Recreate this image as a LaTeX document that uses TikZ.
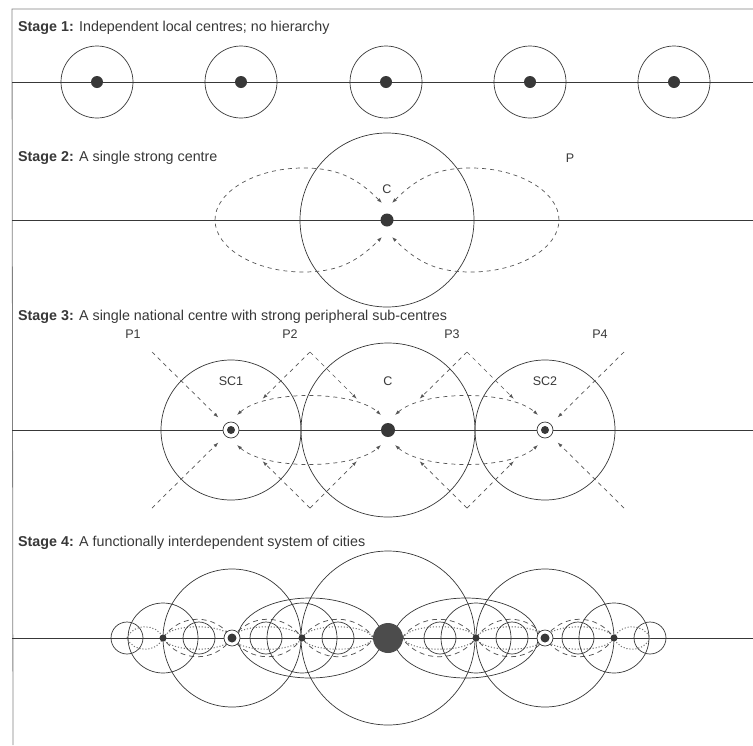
\documentclass[tikz,border=0pt]{standalone}
\usepackage{fontspec}
\setmainfont{Liberation Sans}
\usetikzlibrary{arrows.meta,calc}
\definecolor{ink}{gray}{0.22}
\definecolor{rule}{gray}{0.5}
\begin{document}
\begin{tikzpicture}[x=1pt,y=1pt]
\tikzstyle{every node}+=[inner sep=0pt, font=\fontsize{12.5}{14}\selectfont, text=ink]
\tikzstyle{stagetitle}=[anchor=west, font=\fontsize{14.3}{16}\selectfont]
\tikzstyle{axisline}=[draw=ink, line width=0.6pt]
\tikzstyle{ring}=[draw=ink, line width=0.7pt]
\tikzstyle{flow}=[draw=ink!85, line width=0.7pt, dash pattern=on 4pt off 4pt, -{Latex[length=5pt,width=3.5pt]}]
\tikzstyle{flows}=[flow, {Latex[length=5pt,width=3.5pt]}-{Latex[length=5pt,width=3.5pt]}]
\tikzstyle{link}=[draw=ink!85, line width=0.75pt, dash pattern=on 5pt off 4pt]
\tikzstyle{tie}=[draw=ink!70, line width=1pt, dash pattern=on 1.1pt off 1.9pt]
\useasboundingbox (0,0) rectangle (753,-745);
\fill [white] (0,0) rectangle (753,-745);
\draw [rule, line width=0.8pt] (753,-9) -- (12,-9) -- (13,-745);
% stage 1
\node [stagetitle] (t1) at (18,-28) {\textbf{Stage 1:} Independent local centres; no hierarchy};
\draw [axisline] (12,-82) -- (753,-82);
\coordinate (a1) at (97,-82);
\coordinate (a2) at (241,-82);
\coordinate (a3) at (386,-82);
\coordinate (a4) at (530,-82);
\coordinate (a5) at (674,-82);
\draw [ring] (a1) circle (36);
\draw [ring] (a2) circle (36);
\draw [ring] (a3) circle (36);
\draw [ring] (a4) circle (36);
\draw [ring] (a5) circle (36);
\fill [ink] (a1) circle (6);
\fill [ink] (a2) circle (6);
\fill [ink] (a3) circle (6);
\fill [ink] (a4) circle (6);
\fill [ink] (a5) circle (6);
% stage 2
\node [stagetitle] (t2) at (18,-158) {\textbf{Stage 2:} A single strong centre};
\draw [axisline] (12,-220) -- (753,-220);
\coordinate (c2) at (387,-220);
\draw [ring] (c2) circle (87);
\draw [flows] (382,-203) .. controls (355,-176) and (335,-168) .. (303,-168) .. controls (255,-168) and (215,-192) .. (215,-220) .. controls (215,-248) and (255,-272) .. (303,-272) .. controls (335,-272) and (355,-264) .. (382,-237);
\draw [flows] (392,-203) .. controls (419,-176) and (439,-168) .. (471,-168) .. controls (519,-168) and (559,-192) .. (559,-220) .. controls (559,-248) and (519,-272) .. (471,-272) .. controls (439,-272) and (419,-264) .. (392,-237);
\fill [ink] (c2) circle (6.5);
\node (c2lab) at (387,-189) {C};
\node (plab) at (570,-158) {P};
% stage 3
\node [stagetitle] (t3) at (18,-317) {\textbf{Stage 3:} A single national centre with strong peripheral sub-centres};
\draw [axisline] (12,-430) -- (753,-430);
\coordinate (sc1) at (231,-430);
\coordinate (c3) at (388,-430);
\coordinate (sc2) at (545,-430);
\coordinate (pa) at (152,-352);
\coordinate (pb) at (310,-352);
\coordinate (pc) at (467,-352);
\coordinate (pd) at (624,-352);
\coordinate (qa) at (152,-508);
\coordinate (qb) at (310,-508);
\coordinate (qc) at (467,-508);
\coordinate (qd) at (624,-508);
\draw [ring] (sc1) circle (70);
\draw [ring] (c3) circle (87);
\draw [ring] (sc2) circle (70);
\draw [flow] (pa) -- ($(pa)!0.84!(sc1)$);
\draw [flow] (pb) -- ($(pb)!0.6!(sc1)$);
\draw [flow] (pb) -- ($(pb)!0.6!(c3)$);
\draw [flow] (pc) -- ($(pc)!0.6!(c3)$);
\draw [flow] (pc) -- ($(pc)!0.6!(sc2)$);
\draw [flow] (pd) -- ($(pd)!0.84!(sc2)$);
\draw [flow] (qa) -- ($(qa)!0.84!(sc1)$);
\draw [flow] (qb) -- ($(qb)!0.6!(sc1)$);
\draw [flow] (qb) -- ($(qb)!0.6!(c3)$);
\draw [flow] (qc) -- ($(qc)!0.6!(c3)$);
\draw [flow] (qc) -- ($(qc)!0.6!(sc2)$);
\draw [flow] (qd) -- ($(qd)!0.84!(sc2)$);
\draw [flows] (237,-415) .. controls (265,-390) and (353,-390) .. (381,-415);
\draw [flows] (237,-445) .. controls (265,-470) and (353,-470) .. (381,-445);
\draw [flows] (395,-415) .. controls (423,-390) and (510,-390) .. (538,-415);
\draw [flows] (395,-445) .. controls (423,-470) and (510,-470) .. (538,-445);
\filldraw [fill=white, draw=ink, line width=0.7pt] (sc1) circle (8);
\fill [ink] (sc1) circle (4);
\filldraw [fill=white, draw=ink, line width=0.7pt] (sc2) circle (8);
\fill [ink] (sc2) circle (4);
\fill [ink] (c3) circle (7);
\node (p1lab) at (133,-334) {P1};
\node (p2lab) at (290,-334) {P2};
\node (p3lab) at (452,-334) {P3};
\node (p4lab) at (600,-334) {P4};
\node (sc1lab) at (231,-381) {SC1};
\node (c3lab) at (388,-381) {C};
\node (sc2lab) at (545,-381) {SC2};
% stage 4
\node [stagetitle] (t4) at (18,-543) {\textbf{Stage 4:} A functionally interdependent system of cities};
\draw [axisline] (12,-638) -- (753,-638);
\coordinate (d0) at (388,-638);
\coordinate (r1) at (232,-638);
\coordinate (r2) at (545,-638);
\coordinate (m1) at (163,-638);
\coordinate (m2) at (302,-638);
\coordinate (m3) at (476,-638);
\coordinate (m4) at (614,-638);
\draw [tie] (127,-638) .. controls (133,-623) and (157,-623) .. (163,-638) .. controls (157,-653) and (133,-653) .. cycle;
\draw [tie] (163,-638) .. controls (169,-623) and (226,-623) .. (232,-638) .. controls (226,-653) and (169,-653) .. cycle;
\draw [tie] (232,-638) .. controls (238,-623) and (296,-623) .. (302,-638) .. controls (296,-653) and (238,-653) .. cycle;
\draw [tie] (302,-638) .. controls (308,-623) and (367,-623) .. (373,-638) .. controls (367,-653) and (308,-653) .. cycle;
\draw [tie] (403,-638) .. controls (409,-623) and (470,-623) .. (476,-638) .. controls (470,-653) and (409,-653) .. cycle;
\draw [tie] (476,-638) .. controls (482,-623) and (539,-623) .. (545,-638) .. controls (539,-653) and (482,-653) .. cycle;
\draw [tie] (545,-638) .. controls (551,-623) and (608,-623) .. (614,-638) .. controls (608,-653) and (551,-653) .. cycle;
\draw [tie] (614,-638) .. controls (620,-623) and (644,-623) .. (650,-638) .. controls (644,-653) and (620,-653) .. cycle;
\draw [link] (163,-638) .. controls (180,-613) and (215,-613) .. (232,-638) .. controls (215,-663) and (180,-663) .. cycle;
\draw [link] (232,-638) .. controls (250,-613) and (285,-613) .. (302,-638) .. controls (285,-663) and (250,-663) .. cycle;
\draw [link] (302,-638) .. controls (320,-613) and (356,-613) .. (374,-638) .. controls (356,-663) and (320,-663) .. cycle;
\draw [link] (402,-638) .. controls (420,-613) and (458,-613) .. (476,-638) .. controls (458,-663) and (420,-663) .. cycle;
\draw [link] (476,-638) .. controls (493,-613) and (528,-613) .. (545,-638) .. controls (528,-663) and (493,-663) .. cycle;
\draw [link] (545,-638) .. controls (562,-613) and (597,-613) .. (614,-638) .. controls (597,-663) and (562,-663) .. cycle;
\draw [ring] (310,-638) ellipse (72 and 40);
\draw [ring] (466,-638) ellipse (72 and 40);
\draw [ring] (127,-638) circle (16);
\draw [ring] (199,-638) circle (16);
\draw [ring] (266,-638) circle (16);
\draw [ring] (338,-638) circle (16);
\draw [ring] (440,-638) circle (16);
\draw [ring] (512,-638) circle (16);
\draw [ring] (578,-638) circle (16);
\draw [ring] (650,-638) circle (16);
\draw [ring] (m1) circle (35);
\draw [ring] (m2) circle (35);
\draw [ring] (m3) circle (35);
\draw [ring] (m4) circle (35);
\draw [ring] (r1) circle (69);
\draw [ring] (r2) circle (69);
\draw [ring] (d0) circle (87);
\fill [ink] (m1) circle (3.5);
\fill [ink] (m2) circle (3.5);
\fill [ink] (m3) circle (3.5);
\fill [ink] (m4) circle (3.5);
\filldraw [fill=white, draw=ink, line width=0.7pt] (r1) circle (8);
\fill [ink] (r1) circle (4.5);
\filldraw [fill=white, draw=ink, line width=0.7pt] (r2) circle (8);
\fill [ink] (r2) circle (4.5);
\fill [ink!90] (d0) circle (15);
\end{tikzpicture}
\end{document}
